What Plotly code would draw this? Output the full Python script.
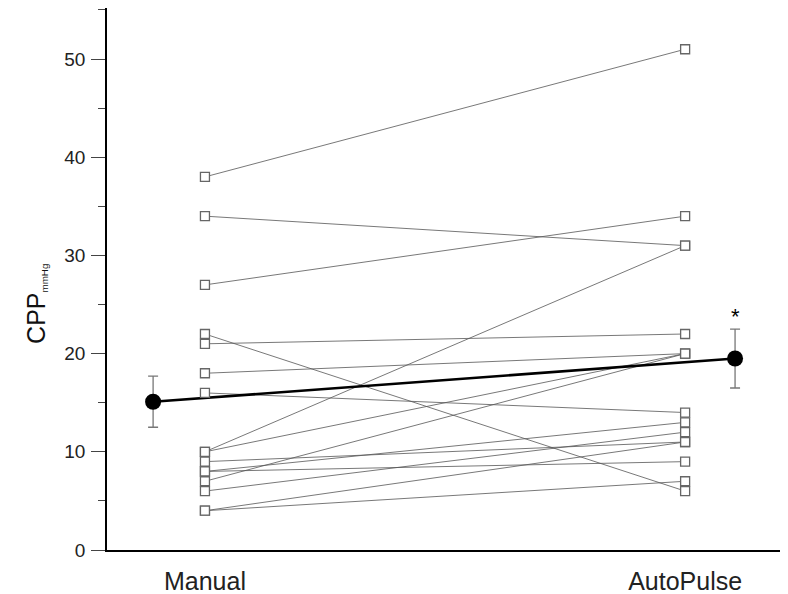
import plotly.graph_objects as go

# Paired subject values (Manual -> AutoPulse)
manual = [38, 34, 27, 22, 21, 18, 16, 10, 10, 9, 8, 8, 7, 6, 4, 4]
autopulse = [51, 31, 34, 6, 22, 20, 14, 31, 20, 11, 9, 13, 20, 12, 7, 11]

categories = ["Manual", "AutoPulse"]
cat_x = [1, 2]
mean_x = [0.892, 2.104]
means = [15.1, 19.5]
errors = [2.6, 3.0]
yticks = [0, 10, 20, 30, 40, 50]

fig = go.Figure()

# individual subject lines
lx, ly = [], []
for m, a in zip(manual, autopulse):
    lx += [cat_x[0], cat_x[1], None]
    ly += [m, a, None]
fig.add_trace(go.Scatter(x=lx, y=ly, mode="lines",
                         line=dict(color="#555555", width=0.8),
                         hoverinfo="skip", showlegend=False))

# mean line
fig.add_trace(go.Scatter(x=mean_x, y=means, mode="lines",
                         line=dict(color="black", width=2.6),
                         showlegend=False))

# square markers
fig.add_trace(go.Scatter(x=[cat_x[0]] * len(manual) + [cat_x[1]] * len(autopulse),
                         y=manual + autopulse, mode="markers",
                         marker=dict(symbol="square", size=9, color="white",
                                     line=dict(color="#666666", width=1.3)),
                         showlegend=False))

# mean markers with error bars
fig.add_trace(go.Scatter(x=mean_x, y=means, mode="markers",
                         marker=dict(symbol="circle", size=16, color="black"),
                         error_y=dict(type="data", array=errors, color="#777777",
                                      thickness=1.3, width=5),
                         showlegend=False))

fig.add_annotation(x=mean_x[1], y=means[1] + errors[1] + 1.3, text="*",
                   showarrow=False, font=dict(size=22, color="black",
                                              family="Liberation Sans"))

fig.add_annotation(xref="paper", yref="paper", x=-0.104, y=0.455,
                   text="CPP<span style='font-size:14px'><sub>mmHg</sub></span>",
                   textangle=-90, showarrow=False, xanchor="center", yanchor="middle",
                   font=dict(size=25, color="#111111", family="Liberation Sans"))

fig.update_layout(
    width=780, height=586,
    margin=dict(l=99, r=3, t=0, b=44),
    plot_bgcolor="white", paper_bgcolor="white",
    font=dict(family="Liberation Sans", color="#222222"),
    xaxis=dict(range=[0.796, 2.208], tickvals=cat_x, ticktext=categories,
               showgrid=False, zeroline=False, showline=True,
               linecolor="black", linewidth=1.5, ticks="",
               tickfont=dict(size=25), ticklabelstandoff=8),
    yaxis=dict(range=[0, 55.2], tickvals=yticks, showgrid=False, zeroline=False,
               showline=True, linecolor="black", linewidth=1.5,
               ticks="outside", ticklen=14, tickwidth=1.2, tickcolor="#444444",
               tickfont=dict(size=19), ticklabelstandoff=2,
               minor=dict(dtick=5, tick0=0, ticks="outside", ticklen=7,
                          tickcolor="#444444", tickwidth=1.2)),
)

fig.write_html("out.html")
